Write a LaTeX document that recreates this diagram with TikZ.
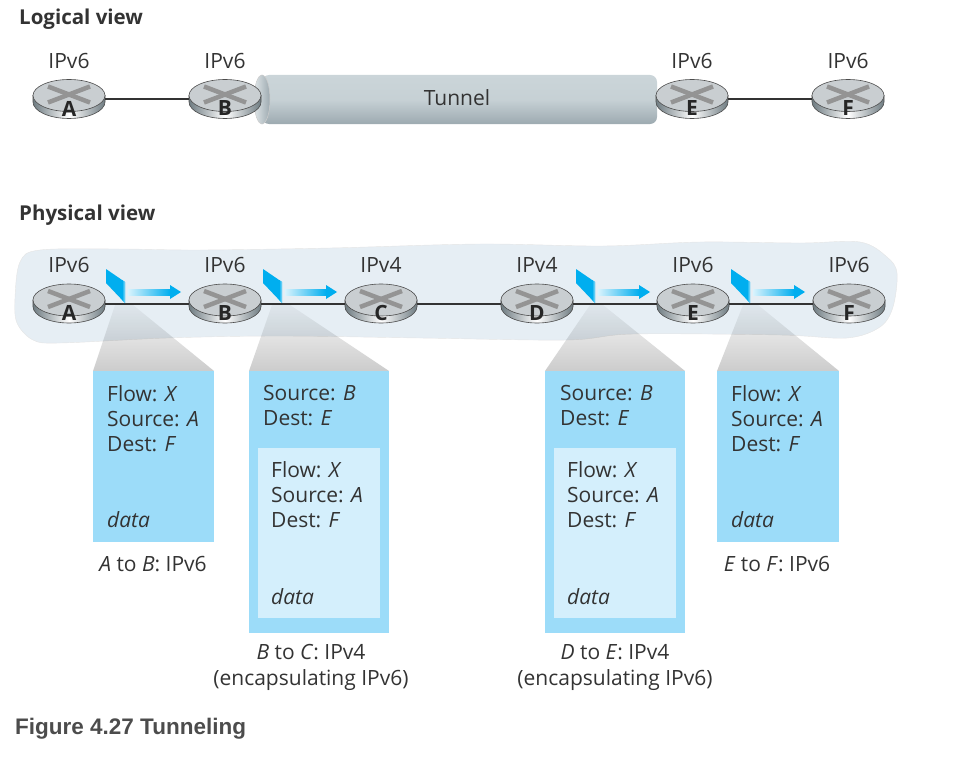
\documentclass[tikz,border=0pt]{standalone}
\usepackage{fontspec}
\setmainfont{Open Sans}
\newfontfamily\capfont{Liberation Sans}
\usetikzlibrary{shapes.geometric,fadings}

\definecolor{txtgray}{HTML}{333333}
\definecolor{cloudblue}{HTML}{E6EEF4}
\definecolor{pktblue}{HTML}{9CDCF9}
\definecolor{innerblue}{HTML}{D4EFFC}
\definecolor{flowblue}{HTML}{00AEEF}
\definecolor{routergray}{HTML}{C9CED1}
\definecolor{routerdark}{HTML}{6F7C82}
\definecolor{tunneltop}{HTML}{CBD5D9}
\definecolor{tunnelbot}{HTML}{9DAAB0}

\tikzfading[name=funnelfade, top color=transparent!97, bottom color=transparent!80]

\tikzset{
  routermark/.style = {draw=none, ellipse, minimum width=72, minimum height=39, inner sep=0},
  iplabel/.style = {text=txtgray, font=\fontsize{21}{26}\selectfont},
  title/.style = {text=txtgray, anchor=west, inner sep=0, font=\fontsize{20.5}{25}\selectfont\bfseries},
  pkttext/.style = {text=txtgray, anchor=north west, inner sep=0, align=left, font=\fontsize{21}{25.3}\selectfont},
  pktbox/.style = {fill=pktblue, anchor=north west, inner sep=0},
  innerbox/.style = {fill=innerblue, anchor=north west, inner sep=0, minimum width=122, minimum height=170},
  link/.style = {draw=black!80, line width=2},
  funnel/.style = {fill=black, path fading=funnelfade}
}

% router drawn at the height of its link line
\newcommand{\router}[4]{
  \node[routermark] (#1) at (#2,#3-1.5) {};
  \begin{scope}[shift={(#2,#3)}]
    \path[left color=routerdark, right color=routerdark, middle color=white, draw=black!70, line width=.6]
      (-36,-5) -- (-36,1.5) arc[start angle=180, end angle=0, x radius=36, y radius=16.5] -- (36,-5) -- cycle;
    \path[fill=routergray, draw=black!70, line width=.6] (0,-5) ellipse[x radius=36, y radius=16];
    \draw[black!42, line width=4.5] (-21,-14) -- (21,2);
    \draw[black!42, line width=4.5] (21,-14) -- (-21,2);
  \end{scope}
  \node[text=black!85, inner sep=0, font=\fontsize{21}{21}\selectfont\bfseries] (#1letter) at (#2,#3+8) {#4};
}

% data packet on a link, with its arrow
\newcommand{\packet}[2]{
  \fill[flowblue] (#1,269) -- (#1+19,282) -- (#1+19,303) -- (#1,283) -- cycle;
  \shade[left color=flowblue, right color=flowblue!45] (#1+16,280) -- (#1+19,282) -- (#1+19,303) -- (#1+16,299.7) -- cycle;
  \shade[left color=flowblue!15, right color=flowblue] (#1+22,289) rectangle (#2-11,295);
  \fill[flowblue] (#2-11,285) -- (#2,292) -- (#2-11,299) -- cycle;
}

\begin{document}
\begin{tikzpicture}[x=1pt, y=-1pt]
\useasboundingbox (0,0) rectangle (957,757);

\node[title] (logical) at (19,19) {Logical view};
\node[title] (physical) at (19,215) {Physical view};

% logical view
\shade[top color=tunneltop, bottom color=tunnelbot, middle color=tunneltop!90!tunnelbot, rounded corners=7]
  (262,75) -- (657,75) -- (657,124) -- (262,124) -- cycle;
\path[left color=tunneltop!60, right color=tunnelbot, draw=black!20, line width=.5] (262,99.5) ellipse[x radius=8, y radius=24.5];
\node[iplabel] (tunnel) at (457,98) {Tunnel};

\router{lA}{69}{100.5}{A}
\router{lB}{225}{100.5}{B}
\router{lE}{692}{100.5}{E}
\router{lF}{848}{100.5}{F}

\draw[link] (lA) -- (lB);
\draw[link] (lE) -- (lF);

\node[iplabel] (lipA) at (69,61) {IPv6};
\node[iplabel] (lipB) at (225,61) {IPv6};
\node[iplabel] (lipE) at (692,61) {IPv6};
\node[iplabel] (lipF) at (848,61) {IPv6};

% physical view
\fill[cloudblue, draw=black!10, line width=.4] plot[smooth cycle, tension=.55] coordinates {
  (15,298) (20,262) (40,250) (120,249) (200,250) (330,248) (480,244) (603,246) (700,242) (800,243)
  (860,242) (887,257) (897,273) (893,307) (880,327) (847,338) (780,335) (633,334) (567,340) (420,338) (280,336)
  (167,338) (60,343) (33,340) (17,323)};

\fill[funnel] (115,305) -- (133,305) -- (214,371) -- (93,371) -- cycle;
\fill[funnel] (272,305) -- (290,305) -- (389,371) -- (249,371) -- cycle;
\fill[funnel] (590,305) -- (603,305) -- (685,371) -- (545,371) -- cycle;
\fill[funnel] (743,305) -- (758,305) -- (839,371) -- (717,371) -- cycle;

\router{pA}{69}{305}{A}
\router{pB}{225}{305}{B}
\router{pC}{381}{305}{C}
\router{pD}{537}{305}{D}
\router{pE}{693}{305}{E}
\router{pF}{849}{305}{F}

\draw[link] (pA) -- (pB);
\draw[link] (pB) -- (pC);
\draw[link] (pC) -- (pD);
\draw[link] (pD) -- (pE);
\draw[link] (pE) -- (pF);

\packet{106}{181}
\packet{263}{337}
\packet{576}{650}
\packet{731}{805}

\node[iplabel] (pipA) at (69,265) {IPv6};
\node[iplabel] (pipB) at (225,265) {IPv6};
\node[iplabel] (pipC) at (381,265) {IPv4};
\node[iplabel] (pipD) at (537,265) {IPv4};
\node[iplabel] (pipE) at (693,265) {IPv6};
\node[iplabel] (pipF) at (849,265) {IPv6};

% packets
\node[pktbox, minimum width=121, minimum height=171] (boxA) at (93,371) {};
\node[pktbox, minimum width=140, minimum height=262] (boxB) at (249,371) {};
\node[pktbox, minimum width=140, minimum height=262] (boxD) at (545,371) {};
\node[pktbox, minimum width=122, minimum height=171] (boxE) at (717,371) {};
\node[innerbox] (innerB) at (258,448) {};
\node[innerbox] (innerD) at (554,448) {};

\node[pkttext] (txtA) at (107,385) {Flow: \emph{X}\\Source: \emph{A}\\Dest: \emph{F}};
\node[pkttext] (dataA) at (107,511) {\emph{data}};
\node[pkttext] (txtB) at (263,385) {Source: \emph{B}\\Dest: \emph{E}};
\node[pkttext] (txtBin) at (271,461) {Flow: \emph{X}\\Source: \emph{A}\\Dest: \emph{F}};
\node[pkttext] (dataB) at (271,588) {\emph{data}};
\node[pkttext] (txtD) at (560,385) {Source: \emph{B}\\Dest: \emph{E}};
\node[pkttext] (txtDin) at (567,461) {Flow: \emph{X}\\Source: \emph{A}\\Dest: \emph{F}};
\node[pkttext] (dataD) at (567,588) {\emph{data}};
\node[pkttext] (txtE) at (731,385) {Flow: \emph{X}\\Source: \emph{A}\\Dest: \emph{F}};
\node[pkttext] (dataE) at (731,511) {\emph{data}};

\node[iplabel] (capA) at (153,564) {\emph{A} to \emph{B}: IPv6};
\node[iplabel, align=center] (capB) at (311,667.5) {\emph{B} to \emph{C}: IPv4\\(encapsulating IPv6)};
\node[iplabel, align=center] (capD) at (615,667.5) {\emph{D} to \emph{E}: IPv4\\(encapsulating IPv6)};
\node[iplabel] (capE) at (777,564) {\emph{E} to \emph{F}: IPv6};

\node[anchor=west, inner sep=0, text=black!70, font=\fontsize{22.5}{22.5}\capfont\bfseries] (figcap) at (15,729) {Figure 4.27 Tunneling};
\end{tikzpicture}
\end{document}
